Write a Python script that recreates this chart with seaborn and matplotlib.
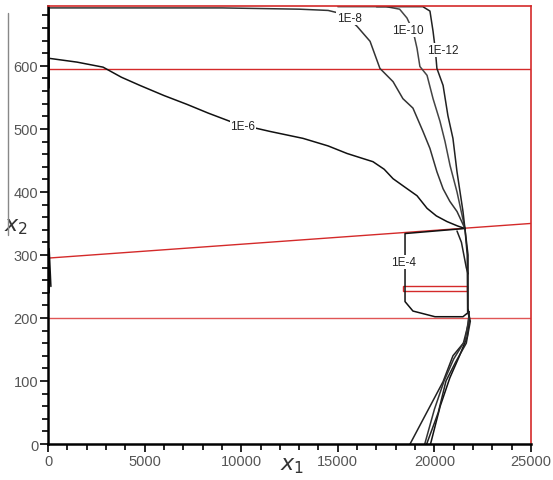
import numpy as np
import matplotlib
matplotlib.use("Agg")
import matplotlib.pyplot as plt
import matplotlib.ticker as mtick
from matplotlib.lines import Line2D
import seaborn as sns

# trajectories (x1, x2)
x_1e6 = [60, 60, 300, 1500, 2850, 3800, 4760, 6000, 7190, 8300, 9420, 10500, 11490, 13200,
         14500, 15480, 16300, 16820, 17400, 17860, 18500, 19100, 19620, 20100, 20650, 21200, 21580]
y_1e6 = [565, 612, 611, 606, 598, 582, 569, 553, 539, 525, 512, 503, 496, 485,
         473, 461, 453, 448, 436, 421, 407, 394, 374, 362, 353, 346, 342]

x_1e8 = [60, 60, 9000, 13000, 14500, 15300, 15990, 16670, 17180, 17860, 18370, 18890, 19410,
         19770, 20130, 20450, 20800, 21170, 21580]
y_1e8 = [612, 692, 692, 690, 688, 682, 663, 639, 596, 575, 548, 533, 496,
         469, 432, 405, 385, 369, 342]

x_1e10 = [15000, 17500, 18200, 18580, 18900, 19100, 19250, 19620, 19930, 20290, 20550, 20810, 21170, 21580]
y_1e10 = [694, 694, 690, 676, 655, 628, 599, 585, 548, 512, 480, 442, 400, 342]

x_1e12 = [17000, 19400, 19770, 19930, 20050, 20130, 20450, 20700, 20960, 21170, 21480, 21580]
y_1e12 = [694, 694, 687, 655, 625, 596, 569, 521, 485, 432, 369, 342]

x_1e4 = [21580, 18480, 18480, 18890, 20030, 21480, 21800]
y_1e4 = [342, 334, 226, 211, 202, 202, 210]
x_1e4_corner = [21170, 21400, 21650, 21740]
y_1e4_corner = [338, 320, 280, 270]
x_stub = [60, 60, 150]
y_stub = [240, 310, 250]

# bundle running down to the x1 axis
x_down_a = [21580, 21740, 21740, 21820, 21700, 21300, 20800, 20300, 19800]
y_down_a = [342, 300, 215, 200, 170, 140, 105, 60, 0]
x_down_b = [21580, 21700, 21720, 21860, 21650, 21100, 20600, 20200, 19600]
y_down_b = [342, 300, 210, 195, 160, 130, 100, 50, 0]
x_down_c = [21800, 21750, 21500, 20960, 20450, 19620, 18740]
y_down_c = [210, 190, 160, 140, 99, 51, 0]
x_down_d = [21780, 21600, 21000, 20500, 20000, 19500]
y_down_d = [200, 165, 135, 100, 55, 0]

# red constraint lines
x2_upper = 595
x2_lower = 200
slope_x = [0, 25000]
slope_y = [295, 350]
box_x = [18400, 21700]
box_y = [243, 250]

labels = ["1E-6", "1E-8", "1E-10", "1E-12", "1E-4"]
label_x = [10090, 15580, 18630, 20440, 18380]
label_y = [505, 676, 657, 625, 289]

sns.set_style("white")
plt.rcParams["font.family"] = ["Liberation Sans", "DejaVu Sans"]

fig = plt.figure(figsize=(5.53, 4.81), dpi=100)
ax = fig.add_axes([0.0868, 0.0748, 0.8734, 0.9106])

red = "#d42a2a"
ax.axhline(x2_upper, color=red, lw=1.0, zorder=1)
ax.axhline(x2_lower, color="#e05555", lw=1.0, zorder=1)
sns.lineplot(x=slope_x, y=slope_y, color=red, lw=1.0, ax=ax, zorder=1)
ax.add_patch(plt.Rectangle((box_x[0], box_y[0]), box_x[1] - box_x[0], box_y[1] - box_y[0],
                           fill=False, edgecolor=red, lw=1.0, zorder=1))

curves = [
    (x_1e6, y_1e6, "#111111"), (x_1e8, y_1e8, "#333333"), (x_1e10, y_1e10, "#444444"),
    (x_1e12, y_1e12, "#222222"), (x_1e4, y_1e4, "#111111"), (x_1e4_corner, y_1e4_corner, "#222222"),
    (x_stub, y_stub, "#111111"), (x_down_a, y_down_a, "#111111"), (x_down_b, y_down_b, "#222222"),
    (x_down_c, y_down_c, "#222222"), (x_down_d, y_down_d, "#333333"),
]
for xs, ys, c in curves:
    sns.lineplot(x=xs, y=ys, sort=False, estimator=None, color=c, lw=1.1, ax=ax, zorder=2)

for t, lx, ly in zip(labels, label_x, label_y):
    ax.text(lx, ly, t, fontsize=8.5, ha="center", va="center", color="#222222", zorder=3,
            bbox=dict(facecolor="white", edgecolor="none", pad=0.5))

ax.set_xlim(0, 25000)
ax.set_ylim(0, 695)
ax.xaxis.set_major_locator(mtick.MultipleLocator(5000))
ax.xaxis.set_minor_locator(mtick.MultipleLocator(1000))
ax.yaxis.set_major_locator(mtick.MultipleLocator(100))
ax.yaxis.set_minor_locator(mtick.MultipleLocator(20))
ax.tick_params(which="both", direction="out", color="black", width=1.2, labelsize=10.5,
               labelcolor="#555555", bottom=True, left=True, top=False, right=False, pad=1)
ax.tick_params(which="major", length=6)
ax.tick_params(which="minor", length=4)

for s in ["left", "bottom"]:
    ax.spines[s].set_color("black")
    ax.spines[s].set_linewidth(1.8)
for s in ["top", "right"]:
    ax.spines[s].set_color(red)
    ax.spines[s].set_linewidth(1.2)

ax.set_xlabel("$x_1$", fontsize=16, color="#333333")
ax.xaxis.set_label_coords(0.505, -0.022)
ax.set_ylabel("$x_2$", fontsize=16, color="#333333", rotation=0)
ax.yaxis.set_label_coords(-0.066, 0.475)

fig.add_artist(Line2D([0.0145, 0.0145], [0.51, 0.97], transform=fig.transFigure,
                      color="#888888", lw=1.0))

fig.savefig("out.png", dpi=100)
plt.close(fig)
